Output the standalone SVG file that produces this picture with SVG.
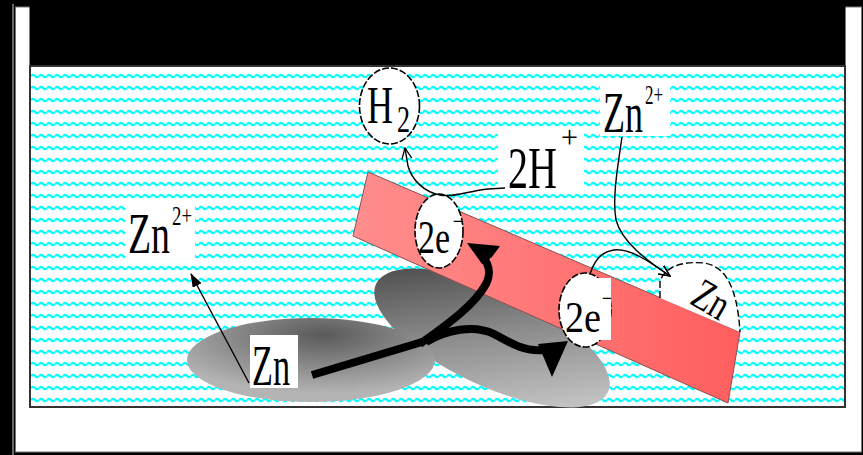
<svg xmlns="http://www.w3.org/2000/svg" width="863" height="455" viewBox="0 0 863 455">
  <style>
    .lbl { font-family: "Liberation Serif", "Times New Roman", serif; fill: #000; }
    .bubble { fill: #fff; stroke: #000; stroke-width: 1.6; stroke-dasharray: 7 2; }
    .thin { fill: none; stroke: #000; stroke-width: 1.4; }
    .thick { fill: none; stroke: #000; stroke-width: 8; stroke-linecap: butt; stroke-linejoin: round; }
    .pad { fill: #fff; }
  </style>
  <defs>
    <!-- wavy water texture -->
    <pattern id="waves" patternUnits="userSpaceOnUse" x="31" y="73" width="8" height="12">
      <path d="M0,3 Q2,0.6 4,3 T8,3" fill="none" stroke="#00ffff" stroke-width="2.3"/>
    </pattern>
    <linearGradient id="barFill" x1="0" y1="0" x2="1" y2="0">
      <stop offset="0" stop-color="#ff8e8e"/>
      <stop offset="1" stop-color="#ff5e5e"/>
    </linearGradient>
    <radialGradient id="zincFront" cx="0.55" cy="0.2" r="0.7">
      <stop offset="0" stop-color="#5a5a5a"/>
      <stop offset="1" stop-color="#b4b4b4"/>
    </radialGradient>
    <linearGradient id="zincBack" x1="0" y1="0" x2="1" y2="0.6">
      <stop offset="0" stop-color="#3c3c3c"/>
      <stop offset="0.55" stop-color="#8a8a8a"/>
      <stop offset="1" stop-color="#c2c2c2"/>
    </linearGradient>
    <marker id="openHead" viewBox="0 0 12 12" refX="11" refY="6" markerWidth="12" markerHeight="12" markerUnits="userSpaceOnUse" orient="auto">
      <path d="M0,1 L11,6 L0,11" fill="none" stroke="#000" stroke-width="1.3"/>
    </marker>
    <marker id="solidHead" viewBox="0 0 14 10" refX="13" refY="5" markerWidth="14" markerHeight="10" markerUnits="userSpaceOnUse" orient="auto">
      <path d="M0,0 L14,5 L0,10 Z" fill="#000"/>
    </marker>
  </defs>

  <!-- beaker -->
  <g id="beaker">
    <rect x="0" y="0" width="863" height="455" fill="#000"/>
    <line x1="13" y1="4" x2="13" y2="455" stroke="#d0d0d0" stroke-width="1"/>
    <rect x="15.5" y="7" width="846" height="445" fill="#fff" stroke="#777" stroke-width="1"/>
    <rect x="29.5" y="0" width="816" height="66" fill="#000"/>
    <rect x="30" y="66" width="815" height="341" fill="#fff"/>
    <rect x="30" y="66" width="815" height="341" fill="url(#waves)" stroke="#333" stroke-width="2"/>
  </g>

  <!-- clear patches behind labels -->
  <g id="label-pads">
    <rect class="pad" x="125" y="200" width="70" height="58"/>
    <rect class="pad" x="600" y="80" width="70" height="56"/>
    <rect class="pad" x="498" y="128" width="86" height="66"/>
  </g>

  <!-- zinc pieces and copper strip -->
  <g id="zinc-back">
    <ellipse cx="492" cy="338" rx="128" ry="48" transform="rotate(25 492 338)" fill="url(#zincBack)"/>
  </g>
  <g id="copper-strip">
    <polygon points="368,172 740,332 728,403 353,236" fill="url(#barFill)" stroke="#8a5050" stroke-width="1"/>
  </g>
  <g id="zinc-front">
    <ellipse cx="311" cy="360" rx="124" ry="42" fill="url(#zincFront)"/>
    <rect class="pad" x="250" y="335" width="48" height="53"/>
    <text class="lbl" x="252" y="385" font-size="58" textLength="38" lengthAdjust="spacingAndGlyphs">Zn</text>
  </g>

  <!-- deposited zinc on the strip -->
  <g id="zinc-deposit">
    <path d="M660,298 L660,282 C664,266 684,261 704,263 C724,266 737,284 740,332 Z" fill="#fff"/>
    <path d="M660,298 L660,282 C664,266 684,261 704,263 C724,266 737,284 740,332" fill="none" stroke="#000" stroke-width="1.4" stroke-dasharray="7 3"/>
    <text class="lbl" transform="translate(704,312) rotate(30)" x="0" y="0" text-anchor="middle" font-size="44" textLength="36" lengthAdjust="spacingAndGlyphs">Zn</text>
  </g>

  <!-- hydrogen bubble -->
  <g id="h2">
    <ellipse class="bubble" cx="389.5" cy="106" rx="30" ry="38"/>
    <text class="lbl" x="367" y="123" font-size="52" textLength="26" lengthAdjust="spacingAndGlyphs">H</text>
    <text class="lbl" x="397" y="132" font-size="37" textLength="13" lengthAdjust="spacingAndGlyphs">2</text>
  </g>

  <!-- electrons -->
  <g id="electrons-1">
    <ellipse class="bubble" cx="439" cy="231" rx="24" ry="37"/>
    <text class="lbl" x="418" y="253" font-size="46" textLength="32" lengthAdjust="spacingAndGlyphs">2e</text>
    <text class="lbl" x="453" y="230" font-size="26" textLength="10" lengthAdjust="spacingAndGlyphs">−</text>
  </g>
  <g id="electrons-2">
    <ellipse class="bubble" cx="585" cy="310" rx="26" ry="37"/>
    <rect class="pad" x="586" y="278" width="25" height="62"/>
    <text class="lbl" x="565" y="332" font-size="44" textLength="36" lengthAdjust="spacingAndGlyphs">2e</text>
    <text class="lbl" x="602" y="307" font-size="26" textLength="10" lengthAdjust="spacingAndGlyphs">−</text>
  </g>

  <!-- ions -->
  <g id="zn-ion-left">
    <text class="lbl" x="128" y="253" font-size="56" textLength="42" lengthAdjust="spacingAndGlyphs">Zn</text>
    <text class="lbl" x="172" y="225" font-size="28" textLength="20" lengthAdjust="spacingAndGlyphs">2+</text>
  </g>
  <g id="zn-ion-right">
    <text class="lbl" x="603" y="132" font-size="56" textLength="40" lengthAdjust="spacingAndGlyphs">Zn</text>
    <text class="lbl" x="645" y="104" font-size="28" textLength="18" lengthAdjust="spacingAndGlyphs">2+</text>
  </g>
  <g id="h-ion">
    <text class="lbl" x="508" y="188" font-size="60" textLength="49" lengthAdjust="spacingAndGlyphs">2H</text>
    <text class="lbl" x="561" y="148" font-size="32" textLength="17" lengthAdjust="spacingAndGlyphs">+</text>
  </g>

  <!-- connectors -->
  <g id="connectors">
    <!-- electron flow through the metals -->
    <path class="thick" d="M312,375 L422,342"/>
    <path class="thick" d="M420,344 C445,326 474,306 486,284 C492,272 488,264 484,258"/>
    <polygon points="467,243 500,246 492,257 482,264" fill="#000"/>
    <path class="thick" stroke-width="7" d="M426,342 C446,330 474,324 494,334 C510,343 525,352 544,350"/>
    <polygon points="538,344 568,341 552,377" fill="#000"/>
    <!-- zinc leaves as ions -->
    <path class="thin" d="M249,383 L191,274" marker-end="url(#solidHead)"/>
    <!-- hydrogen evolution -->
    <path class="thin" d="M505,188 L488,189 C468,191 452,198 440,195 C424,192 412,180 408,166 L405,148" marker-end="url(#openHead)"/>
    <!-- zinc ions and electrons form deposit -->
    <path class="thin" d="M622,137 C618,165 612,198 616,220 C622,242 646,260 670,276" marker-end="url(#openHead)"/>
    <path class="thin" d="M590,274 C594,262 600,252 614,250 C630,248 650,262 670,276" marker-end="url(#openHead)"/>
  </g>
</svg>
